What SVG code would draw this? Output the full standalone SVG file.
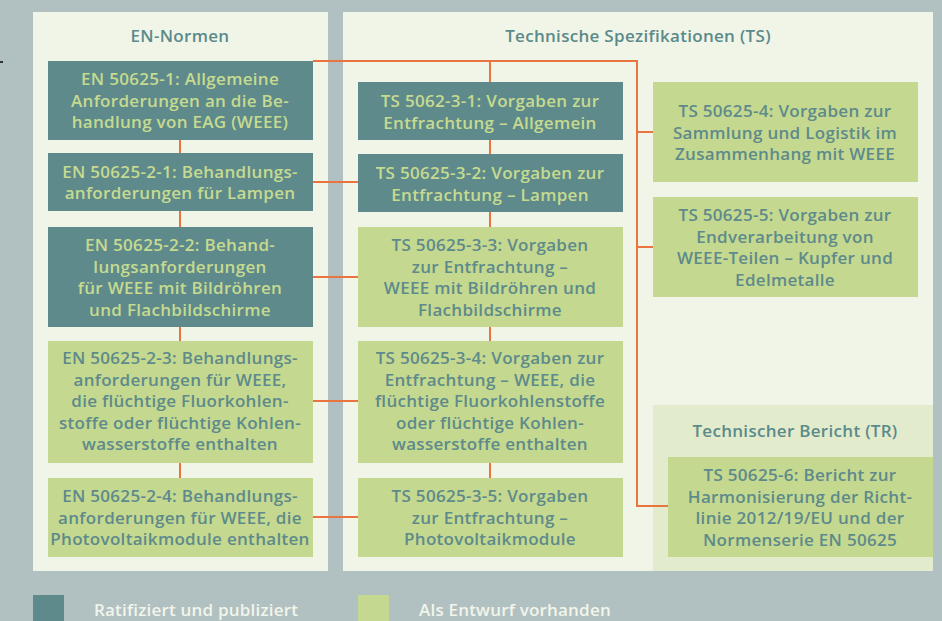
<svg xmlns="http://www.w3.org/2000/svg" width="942" height="621" viewBox="0 0 942 621">
<style>
.panel{fill:#f1f5e7}
.dk{fill:#5e8a8b}
.lt{fill:#c4d88f}
.t{font-family:"Open Sans","Liberation Sans",sans-serif;font-weight:600;font-size:17px;letter-spacing:0.3px;text-anchor:middle}
.td{fill:#c6da90}
.tl{fill:#5e8a8b}
.h{font-family:"Open Sans","Liberation Sans",sans-serif;font-weight:600;font-size:17px;letter-spacing:0.3px;text-anchor:middle;fill:#5b8a8b}
.lg{font-family:"Open Sans","Liberation Sans",sans-serif;font-weight:600;font-size:17px;letter-spacing:0.2px;fill:#f2f5ea}
.c{stroke:#e8743f;stroke-width:2;fill:none}
</style>
<rect width="942" height="621" fill="#b1c1c2"/>
<rect x="0" y="61" width="3" height="2" fill="#333"/>
<g id="panel-en">
<rect class="panel" x="33" y="12" width="295" height="559"/>
<text class="h" x="180" y="42">EN-Normen</text>
</g>
<g id="panel-ts">
<rect class="panel" x="343" y="12" width="590" height="559"/>
<text class="h" x="638" y="42">Technische Spezifikationen (TS)</text>
</g>
<g id="panel-tr">
<rect x="653" y="405" width="280" height="166" fill="#e2ebcc"/>
<text class="h" x="795" y="437">Technischer Bericht (TR)</text>
</g>
<g id="connectors">
<path class="c" d="M180 140V478"/>
<path class="c" d="M490 61V478"/>
<path class="c" d="M313 61H637V506H668"/>
<path class="c" d="M637 132H653M637 247H653"/>
<path class="c" d="M313 182H358M313 277H358M313 401H358M313 517H358"/>
</g>
<g id="en-50625-1">
<rect class="dk" x="48" y="61" width="265" height="79"/>
<text class="t td" x="180"><tspan x="180" y="85">EN 50625-1: Allgemeine</tspan><tspan x="180" y="107">Anforderungen an die Be-</tspan><tspan x="180" y="128">handlung von EAG (WEEE)</tspan></text>
</g>
<g id="en-50625-2-1">
<rect class="dk" x="48" y="153" width="265" height="58"/>
<text class="t td"><tspan x="180" y="177.5">EN 50625-2-1: Behandlungs-</tspan><tspan x="180" y="199">anforderungen für Lampen</tspan></text>
</g>
<g id="en-50625-2-2">
<rect class="dk" x="48" y="227" width="265" height="100"/>
<text class="t td"><tspan x="180" y="251">EN 50625-2-2: Behand-</tspan><tspan x="180" y="272.5">lungsanforderungen</tspan><tspan x="180" y="294">für WEEE mit Bildröhren</tspan><tspan x="180" y="315.5">und Flachbildschirme</tspan></text>
</g>
<g id="en-50625-2-3">
<rect class="lt" x="48" y="341" width="265" height="122"/>
<text class="t tl"><tspan x="180" y="364">EN 50625-2-3: Behandlungs-</tspan><tspan x="180" y="385.5">anforderungen für WEEE,</tspan><tspan x="180" y="407">die flüchtige Fluorkohlen-</tspan><tspan x="180" y="428.5">stoffe oder flüchtige Kohlen-</tspan><tspan x="180" y="450">wasserstoffe enthalten</tspan></text>
</g>
<g id="en-50625-2-4">
<rect class="lt" x="48" y="478" width="265" height="79"/>
<text class="t tl"><tspan x="180" y="502">EN 50625-2-4: Behandlungs-</tspan><tspan x="180" y="523.5">anforderungen für WEEE, die</tspan><tspan x="180" y="545">Photovoltaikmodule enthalten</tspan></text>
</g>
<g id="ts-5062-3-1">
<rect class="dk" x="358" y="82" width="265" height="58"/>
<text class="t td"><tspan x="490" y="107">TS 5062-3-1: Vorgaben zur</tspan><tspan x="490" y="128.5">Entfrachtung – Allgemein</tspan></text>
</g>
<g id="ts-50625-3-2">
<rect class="dk" x="358" y="154" width="265" height="58"/>
<text class="t td"><tspan x="490" y="179">TS 50625-3-2: Vorgaben zur</tspan><tspan x="490" y="200.5">Entfrachtung – Lampen</tspan></text>
</g>
<g id="ts-50625-3-3">
<rect class="lt" x="358" y="227" width="265" height="100"/>
<text class="t tl"><tspan x="490" y="251">TS 50625-3-3: Vorgaben</tspan><tspan x="490" y="272.5">zur Entfrachtung –</tspan><tspan x="490" y="294">WEEE mit Bildröhren und</tspan><tspan x="490" y="315.5">Flachbildschirme</tspan></text>
</g>
<g id="ts-50625-3-4">
<rect class="lt" x="358" y="341" width="265" height="122"/>
<text class="t tl"><tspan x="490" y="364">TS 50625-3-4: Vorgaben zur</tspan><tspan x="490" y="385.5">Entfrachtung – WEEE, die</tspan><tspan x="490" y="407">flüchtige Fluorkohlenstoffe</tspan><tspan x="490" y="428.5">oder flüchtige Kohlen-</tspan><tspan x="490" y="450">wasserstoffe enthalten</tspan></text>
</g>
<g id="ts-50625-3-5">
<rect class="lt" x="358" y="478" width="265" height="79"/>
<text class="t tl"><tspan x="490" y="502">TS 50625-3-5: Vorgaben</tspan><tspan x="490" y="523.5">zur Entfrachtung –</tspan><tspan x="490" y="545">Photovoltaikmodule</tspan></text>
</g>
<g id="ts-50625-4">
<rect class="lt" x="653" y="82" width="265" height="100"/>
<text class="t tl"><tspan x="785" y="117">TS 50625-4: Vorgaben zur</tspan><tspan x="785" y="138.5">Sammlung und Logistik im</tspan><tspan x="785" y="160">Zusammenhang mit WEEE</tspan></text>
</g>
<g id="ts-50625-5">
<rect class="lt" x="653" y="197" width="265" height="100"/>
<text class="t tl"><tspan x="785" y="221">TS 50625-5: Vorgaben zur</tspan><tspan x="785" y="242.5">Endverarbeitung von</tspan><tspan x="785" y="264">WEEE-Teilen – Kupfer und</tspan><tspan x="785" y="285.5">Edelmetalle</tspan></text>
</g>
<g id="ts-50625-6">
<rect class="lt" x="668" y="457" width="265" height="100"/>
<text class="t tl"><tspan x="800" y="481">TS 50625-6: Bericht zur</tspan><tspan x="800" y="502.5">Harmonisierung der Richt-</tspan><tspan x="800" y="524">linie 2012/19/EU und der</tspan><tspan x="800" y="545.5">Normenserie EN 50625</tspan></text>
</g>
<g id="legend">
<rect class="dk" x="33" y="595" width="31" height="26"/>
<text class="lg" x="94" y="616">Ratifiziert und publiziert</text>
<rect class="lt" x="358" y="595" width="31" height="26"/>
<text class="lg" x="419" y="616">Als Entwurf vorhanden</text>
</g>
</svg>
